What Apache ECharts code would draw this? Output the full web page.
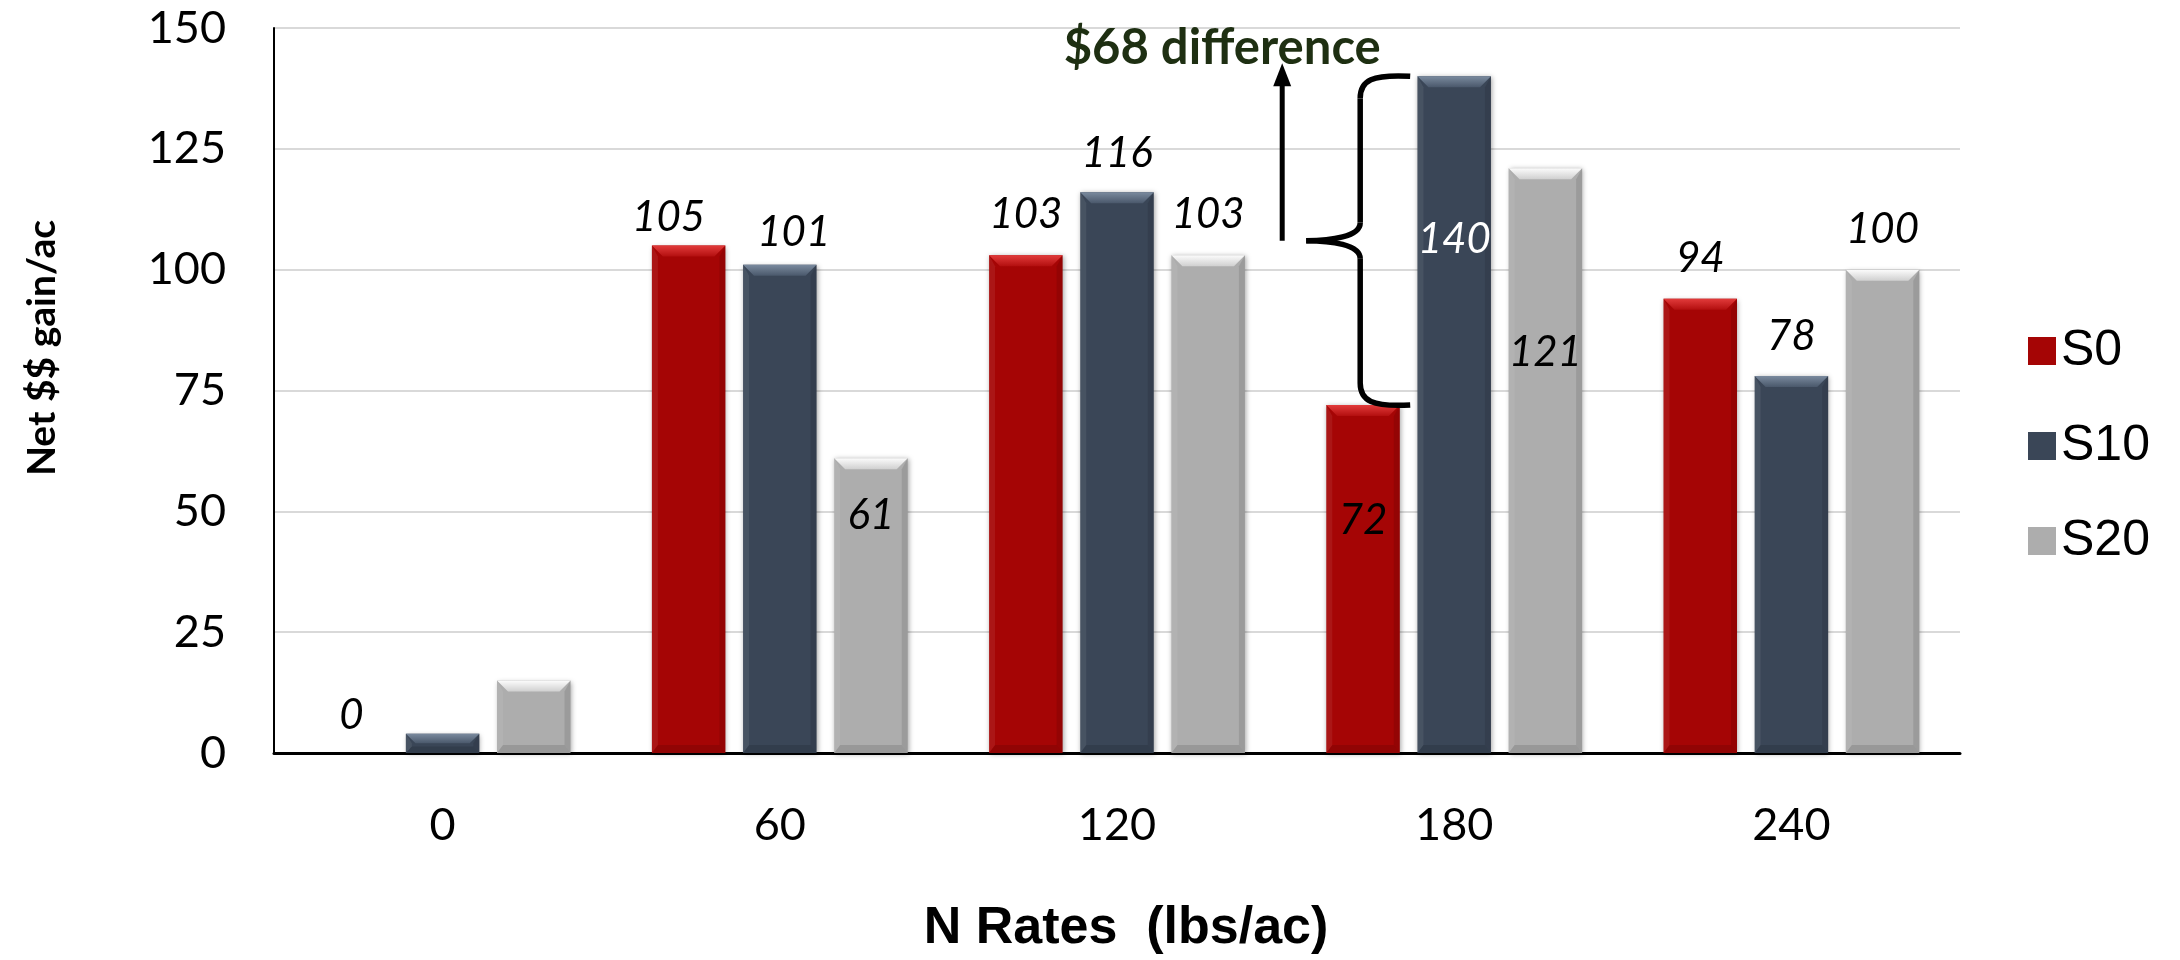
<!DOCTYPE html>
<html>
<head>
<meta charset="utf-8">
<script src="https://cdn.jsdelivr.net/npm/echarts@6/dist/echarts.min.js"></script>
<style>
  html, body { margin: 0; padding: 0; background: #ffffff; }
  #chart { width: 2180px; height: 960px; }
</style>
</head>
<body>
<div id="chart"></div>
<script>
// N rate categories (lbs/ac) and net gain ($/ac) per sulfur treatment
const categories = ['0', '60', '120', '180', '240'];
const seriesNames = ['S0', 'S10', 'S20'];
const s0Values = [0, 105, 103, 72, 94];
const s10Values = [4, 101, 116, 140, 78];
const s20Values = [15, 61, 103, 121, 100];
const yTicks = [0, 25, 50, 75, 100, 125, 150];

// bar geometry, shared by the bars and their bevel overlay
const BAR_FRAC = 0.218;   // bar width as share of the category band
const GAP_FRAC = 0.24;    // gap between bars as share of bar width

const palette = [
  { base: '#a50505', top: ['#e23b3b', '#b30f0f'] },
  { base: '#3a4657', top: ['#7a8a9e', '#4a586b'] },
  { base: '#adadad', top: ['#fcfcfc', '#d0d0d0'] }
];

// label placement per bar: [position, distance, colour, x shift]; null hides the label
const labelPlace = [
  [['top', 17], ['top', 7, null, -20], ['top', 20], ['insideTop', 94], ['top', 19]],
  [null, ['top', 11, null, 14], ['top', 18], ['insideTop', 142, '#ffffff'], ['top', 19]],
  [null, ['insideTop', 36], ['top', 20], ['insideTop', 163], ['top', 19]]
];

const allValues = [s0Values, s10Values, s20Values];

function barItems(si) {
  return allValues[si].map(function (v, i) {
    const p = labelPlace[si][i];
    if (!p) return { value: v, label: { show: false } };
    return {
      value: v,
      label: {
        show: true, position: p[0], distance: p[1],
        color: p[2] || '#000000', offset: [p[3] || 0, 0]
      }
    };
  });
}

function barSeries(si) {
  return {
    type: 'bar',
    name: seriesNames[si],
    data: barItems(si),
    barWidth: (BAR_FRAC * 100) + '%',
    barGap: (GAP_FRAC * 100) + '%',
    z: 2,
    itemStyle: {
      color: palette[si].base,
      shadowColor: 'rgba(0,0,0,0.35)',
      shadowBlur: 5,
      shadowOffsetX: 1,
      shadowOffsetY: 1
    },
    label: {
      fontFamily: 'Lato',
      fontStyle: 'italic',
      fontSize: 42,
      color: '#000000'
    },
    emphasis: { disabled: true }
  };
}

// bevelled edges drawn over each bar
function bevelSeries(si) {
  const topFill = {
    type: 'linear', x: 0, y: 0, x2: 0, y2: 1,
    colorStops: [
      { offset: 0, color: palette[si].top[0] },
      { offset: 1, color: palette[si].top[1] }
    ]
  };
  return {
    type: 'custom',
    name: seriesNames[si] + ' edge',
    silent: true,
    z: 2,
    data: allValues[si].map(function (v, i) { return [i, v]; }),
    renderItem: function (params, api) {
      const ci = api.value(0);
      const v = api.value(1);
      if (!v) return null;
      const band = api.size([1, 0])[0];
      const bw = band * BAR_FRAC;
      const gap = bw * GAP_FRAC;
      const total = 3 * bw + 2 * gap;
      const pt = api.coord([ci, v]);
      const base = api.coord([ci, 0]);
      const x0 = pt[0] - total / 2 + si * (bw + gap);
      const x1 = x0 + bw;
      const yT = pt[1];
      const yB = base[1];
      const h = yB - yT;
      const t = Math.min(11, h / 2);
      const s = Math.min(6, h / 3);
      const bb = Math.min(8, h / 3);
      return {
        type: 'group',
        children: [
          { type: 'polygon', z2: 1, shape: { points: [[x0, yT], [x0 + s, yT + t], [x0 + s, yB - bb], [x0, yB]] },
            style: { fill: 'rgba(255,255,255,0.07)' } },
          { type: 'polygon', z2: 1, shape: { points: [[x1, yT], [x1 - s, yT + t], [x1 - s, yB - bb], [x1, yB]] },
            style: { fill: 'rgba(0,0,0,0.10)' } },
          { type: 'polygon', z2: 1, shape: { points: [[x0, yB], [x1, yB], [x1 - s, yB - bb], [x0 + s, yB - bb]] },
            style: { fill: 'rgba(0,0,0,0.12)' } },
          { type: 'polygon', z2: 2, shape: { points: [[x0, yT], [x1, yT], [x1 - t, yT + t], [x0 + t, yT + t]] },
            style: { fill: topFill } }
        ]
      };
    }
  };
}

const tickFont = { fontFamily: 'Lato', fontSize: 45, color: '#000000' };

const option = {
  backgroundColor: '#ffffff',
  animation: false,
  grid: { left: 274, right: 220, top: 28, bottom: 205, containLabel: false },
  legend: {
    data: seriesNames,
    orient: 'vertical',
    left: 2023,
    top: 321,
    icon: 'rect',
    itemWidth: 28,
    itemHeight: 28,
    itemGap: 45,
    textStyle: { fontFamily: 'Liberation Sans', fontSize: 50, color: '#000000' },
    selectedMode: false
  },
  xAxis: {
    type: 'category',
    data: categories,
    name: 'N Rates  (lbs/ac)',
    nameLocation: 'middle',
    nameGap: 150,
    nameTextStyle: { fontFamily: 'Liberation Sans', fontWeight: 'bold', fontSize: 52, color: '#000000', padding: [0, 0, 0, 18] },
    axisLine: { show: true, lineStyle: { color: '#000000', width: 3 } },
    axisTick: { show: false },
    axisLabel: Object.assign({ margin: 50 }, tickFont),
    splitLine: { show: false }
  },
  yAxis: {
    type: 'value',
    min: yTicks[0],
    max: yTicks[yTicks.length - 1],
    interval: yTicks[1] - yTicks[0],
    name: 'Net $$ gain/ac',
    nameLocation: 'middle',
    nameGap: 212,
    nameTextStyle: { fontFamily: 'Lato', fontWeight: 'bold', fontSize: 39, color: '#000000', padding: [0, 0, 0, 85] },
    axisLine: { show: true, lineStyle: { color: '#000000', width: 2 } },
    axisTick: { show: false },
    axisLabel: Object.assign({ margin: 48 }, tickFont),
    splitLine: { show: true, lineStyle: { color: '#d9d9d9', width: 2 } }
  },
  series: [
    barSeries(0), barSeries(1), barSeries(2),
    bevelSeries(0), bevelSeries(1), bevelSeries(2)
  ]
};

const chart = echarts.init(document.getElementById('chart'), null, { renderer: 'canvas' });
chart.setOption(option);

// brace and arrow marking the S0 / S10 gap at the 180 rate
function drawDifference() {
  const ci = 3;
  const hi = s10Values[ci];
  const lo = s0Values[ci];
  const pHi = chart.convertToPixel({ gridIndex: 0 }, [ci, hi]);
  const pLo = chart.convertToPixel({ gridIndex: 0 }, [ci, lo]);
  const cx = pHi[0];
  const yTop = pHi[1];
  const yBot = pLo[1];
  const yMid = (yTop + yBot) / 2;
  const xEnd = cx - 44, xV = cx - 94, xPt = cx - 148, xArrow = cx - 172;
  const hook = 22;
  const lineStyle = { stroke: '#000000', lineWidth: 5.5, fill: null };
  const elements = [
    { type: 'bezierCurve', shape: { x1: xEnd, y1: yTop, cpx1: xV + 12, cpy1: yTop - 2, cpx2: xV, cpy2: yTop + 4, x2: xV, y2: yTop + hook }, style: lineStyle },
    { type: 'line', shape: { x1: xV, y1: yTop + hook, x2: xV, y2: yMid - hook + 4 }, style: lineStyle },
    { type: 'bezierCurve', shape: { x1: xV, y1: yMid - hook + 4, cpx1: xV, cpy1: yMid - 4, cpx2: xPt + 25, cpy2: yMid, x2: xPt, y2: yMid }, style: lineStyle },
    { type: 'bezierCurve', shape: { x1: xPt, y1: yMid, cpx1: xPt + 25, cpy1: yMid, cpx2: xV, cpy2: yMid + 4, x2: xV, y2: yMid + hook - 4 }, style: lineStyle },
    { type: 'line', shape: { x1: xV, y1: yMid + hook - 4, x2: xV, y2: yBot - hook }, style: lineStyle },
    { type: 'bezierCurve', shape: { x1: xV, y1: yBot - hook, cpx1: xV, cpy1: yBot - 4, cpx2: xV + 12, cpy2: yBot + 2, x2: xEnd, y2: yBot }, style: lineStyle },
    { type: 'line', shape: { x1: xArrow, y1: yMid, x2: xArrow, y2: yTop - 2 }, style: { stroke: '#000000', lineWidth: 5 } },
    { type: 'polygon', shape: { points: [[xArrow, yTop - 13], [xArrow - 9, yTop + 10], [xArrow + 9, yTop + 10]] }, style: { fill: '#000000' } },
    { type: 'text', x: cx - 232, y: yTop - 28,
      style: { text: '$' + (hi - lo) + ' difference', fontFamily: 'Lato', fontWeight: 'bold', fontSize: 49,
               fill: '#1e2f12', textAlign: 'center', textVerticalAlign: 'middle' } }
  ];
  chart.setOption({ graphic: { elements: elements.map(function (e) { return Object.assign({ z: 10, silent: true }, e); }) } });
}
drawDifference();
</script>
</body>
</html>
